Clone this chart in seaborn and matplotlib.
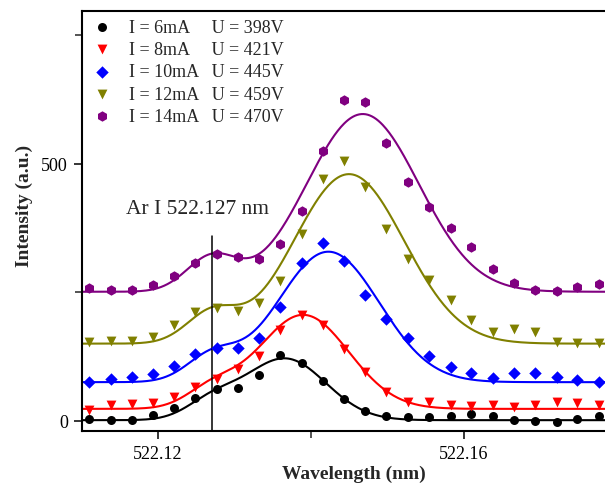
import numpy as np
import pandas as pd
import matplotlib
matplotlib.use("Agg")
import matplotlib.pyplot as plt
import seaborn as sns
from matplotlib.ticker import MultipleLocator

# ---------------- data ----------------
wavelength = [522.1110, 522.1138, 522.1166, 522.1193, 522.1221, 522.1249, 522.1277,
              522.1305, 522.1332, 522.1360, 522.1388, 522.1416, 522.1444, 522.1471,
              522.1499, 522.1527, 522.1555, 522.1583, 522.1610, 522.1638, 522.1666,
              522.1694, 522.1722, 522.1749, 522.1777]

int_6mA = [3, 1, 1, 11, 25, 44, 61, 63, 89, 127, 112, 78, 42, 18, 10, 7, 8, 9, 13, 10, 1, 0, -2, 3, 9]
int_8mA = [20, 31, 32, 35, 46, 65, 81, 101, 125, 177, 205, 186, 140, 94, 56, 37, 36, 31, 28, 31, 26, 31, 36, 35, 31]
int_10mA = [76, 81, 85, 91, 106, 130, 141, 141, 161, 222, 307, 346, 310, 245, 198, 161, 125, 105, 92, 84, 92, 93, 86, 80, 76]
int_12mA = [153, 155, 155, 162, 186, 212, 219, 214, 229, 272, 363, 471, 506, 454, 373, 314, 273, 234, 196, 173, 179, 173, 154, 151, 151]
int_14mA = [258, 255, 255, 265, 282, 307, 324, 318, 315, 344, 409, 526, 625, 620, 540, 464, 416, 375, 338, 295, 268, 255, 253, 260, 266]

labels = ["I = 6mA     U = 398V", "I = 8mA     U = 421V", "I = 10mA   U = 445V",
          "I = 12mA   U = 459V", "I = 14mA   U = 470V"]
colors = ["#000000", "#ff0000", "#0000ff", "#808000", "#800080"]
markers = ["o", "v", "D", "v", "h"]

# two-Gaussian fit parameters (shoulder at Ar I line + main peak)
ar_line = 522.127
shoulder_sigma = 0.00330
fit_base = [1, 23, 75, 150, 251]
fit_shoulder_amp = [32, 34, 46, 56, 65]
fit_center = [522.1366, 522.1390, 522.1423, 522.1450, 522.1468]
fit_amp = [120, 183, 254, 330, 346]
fit_sigma = [0.00535, 0.00598, 0.00670, 0.00723, 0.00735]

series = [int_6mA, int_8mA, int_10mA, int_12mA, int_14mA]

# ---------------- style ----------------
sns.set_theme(style="ticks")
plt.rcParams["font.family"] = ["Liberation Serif", "DejaVu Serif"]
plt.rcParams["mathtext.fontset"] = "stix"

fig = plt.figure(figsize=(6.05, 4.85), dpi=100)
ax = fig.add_axes([81.7 / 605, 53.3 / 485, 534.6 / 605, 419.4 / 485])

xfit = np.linspace(522.110, 522.180, 500)
sizes = [42, 50, 40, 50, 56]
for vals, lab, col, mk, sz, b, sa, c, a, s in zip(series, labels, colors, markers, sizes,
                                                  fit_base, fit_shoulder_amp, fit_center,
                                                  fit_amp, fit_sigma):
    yfit = (b + sa * np.exp(-(xfit - ar_line) ** 2 / (2 * shoulder_sigma ** 2))
            + a * np.exp(-(xfit - c) ** 2 / (2 * s ** 2)))
    sns.lineplot(x=xfit, y=yfit, color=col, linewidth=1.5, ax=ax, legend=False)
    sns.scatterplot(x=wavelength, y=vals, color=col, marker=mk, s=sz, linewidth=0,
                    label=lab, ax=ax, zorder=3)

# vertical marker for Ar I line
ax.plot([ar_line, ar_line], [-19.5, 359], color="black", linewidth=1.1, zorder=2)
ax.text(522.1252, 413, "Ar I 522.127 nm", fontsize=15.5, ha="center", va="center")

ax.set_xlim(522.110, 522.180)
ax.set_ylim(-19.5, 797)
ax.xaxis.set_major_locator(MultipleLocator(0.04))
ax.xaxis.set_minor_locator(MultipleLocator(0.02))
ax.yaxis.set_major_locator(MultipleLocator(500))
ax.yaxis.set_minor_locator(MultipleLocator(250))
ax.xaxis.set_major_formatter(matplotlib.ticker.FuncFormatter(lambda v, p: f"{v:.2f}"))
ax.tick_params(which="major", direction="out", length=6, width=1.1, labelsize=13, pad=4, colors="black")
ax.tick_params(which="minor", direction="out", length=5, width=1.1)

for sp in ax.spines.values():
    sp.set_linewidth(1.5)
    sp.set_color("black")

ax.set_xlabel("Wavelength (nm)", fontsize=14, fontweight="bold")
ax.set_ylabel("Intensity (a.u.)", fontsize=14, fontweight="bold")
ax.xaxis.set_label_coords(0.509, -0.082)
ax.yaxis.set_label_coords(-0.091, 0.539)

h, l = ax.get_legend_handles_labels()
leg = ax.legend(h, l, loc="upper left", bbox_to_anchor=(0.022, 0.982), frameon=False,
                fontsize=13, borderpad=0, borderaxespad=0, handlelength=1.0,
                handletextpad=0.99, labelspacing=0.29)

fig.savefig("out.png", dpi=100)
